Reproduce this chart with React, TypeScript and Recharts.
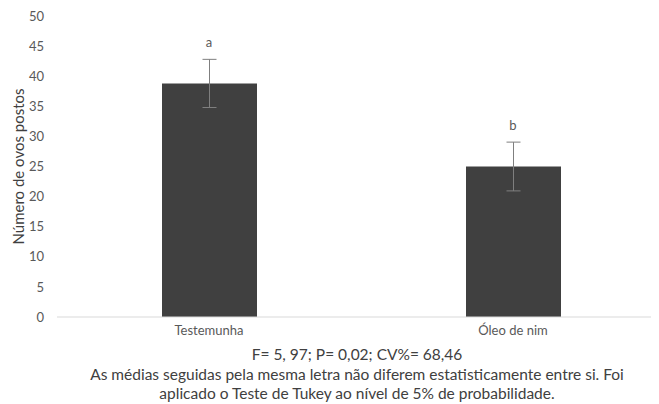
import React from "react";
import {
  ComposedChart,
  Bar,
  Line,
  XAxis,
  YAxis,
  ErrorBar,
  LabelList,
} from "recharts";

const categories = ["Testemunha", "Óleo de nim"];
const means = [38.8, 25.0];
const errors = [4.0, 4.05];
const letters = ["a", "b"];
const yTicks = [0, 5, 10, 15, 20, 25, 30, 35, 40, 45, 50];

const data = categories.map((name, i) => ({
  name,
  mean: means[i],
  err: errors[i],
  top: means[i] + errors[i],
  letter: letters[i],
}));

const FONT = "Lato, 'Open Sans', sans-serif";
const TEXT = "#595959";

export default function App() {
  return (
    <div
      style={{
        position: "relative",
        width: 659,
        height: 404,
        margin: "-8px 0 0 -8px",
        overflow: "hidden",
        background: "#fff",
        fontFamily: FONT,
      }}
    >
      <ComposedChart
        width={680}
        height={350}
        data={data}
        margin={{ top: 16, right: 15, bottom: 3, left: 0 }}
      >
        <XAxis
          dataKey="name"
          axisLine={{ stroke: "#d9d9d9" }}
          tickLine={false}
          tickSize={0}
          tickMargin={9}
          height={30}
          tick={{ fill: TEXT, fontSize: 13, fontFamily: FONT }}
        />
        <YAxis
          domain={[0, 50]}
          ticks={yTicks}
          width={57}
          axisLine={false}
          tickLine={false}
          tickSize={0}
          tickMargin={13}
          tick={{ fill: TEXT, fontSize: 13, fontFamily: FONT }}
          label={{
            value: "Número de ovos postos",
            angle: -90,
            position: "insideLeft",
            offset: 19,
            style: { textAnchor: "middle", fill: "#404040", fontSize: 15, fontFamily: FONT },
          }}
        />
        <Bar dataKey="mean" fill="#404040" barSize={95} isAnimationActive={false}>
          <ErrorBar dataKey="err" width={7} stroke="#7f7f7f" strokeWidth={1} />
        </Bar>
        <Line
          dataKey="top"
          stroke="none"
          dot={false}
          activeDot={false}
          isAnimationActive={false}
        >
          <LabelList
            dataKey="letter"
            position="top"
            offset={12}
            style={{ fill: TEXT, fontSize: 13, fontFamily: FONT }}
          />
        </Line>
      </ComposedChart>
      <div
        style={{
          position: "absolute",
          left: 57,
          width: 600,
          top: 345,
          textAlign: "center",
          color: "#404040",
          fontSize: 15.5,
          lineHeight: "19.5px",
        }}
      >
        <div>F= 5, 97; P= 0,02; CV%= 68,46</div>
        <div>As médias seguidas pela mesma letra não diferem estatisticamente entre si. Foi</div>
        <div>aplicado o Teste de Tukey ao nível de 5% de probabilidade.</div>
      </div>
    </div>
  );
}
